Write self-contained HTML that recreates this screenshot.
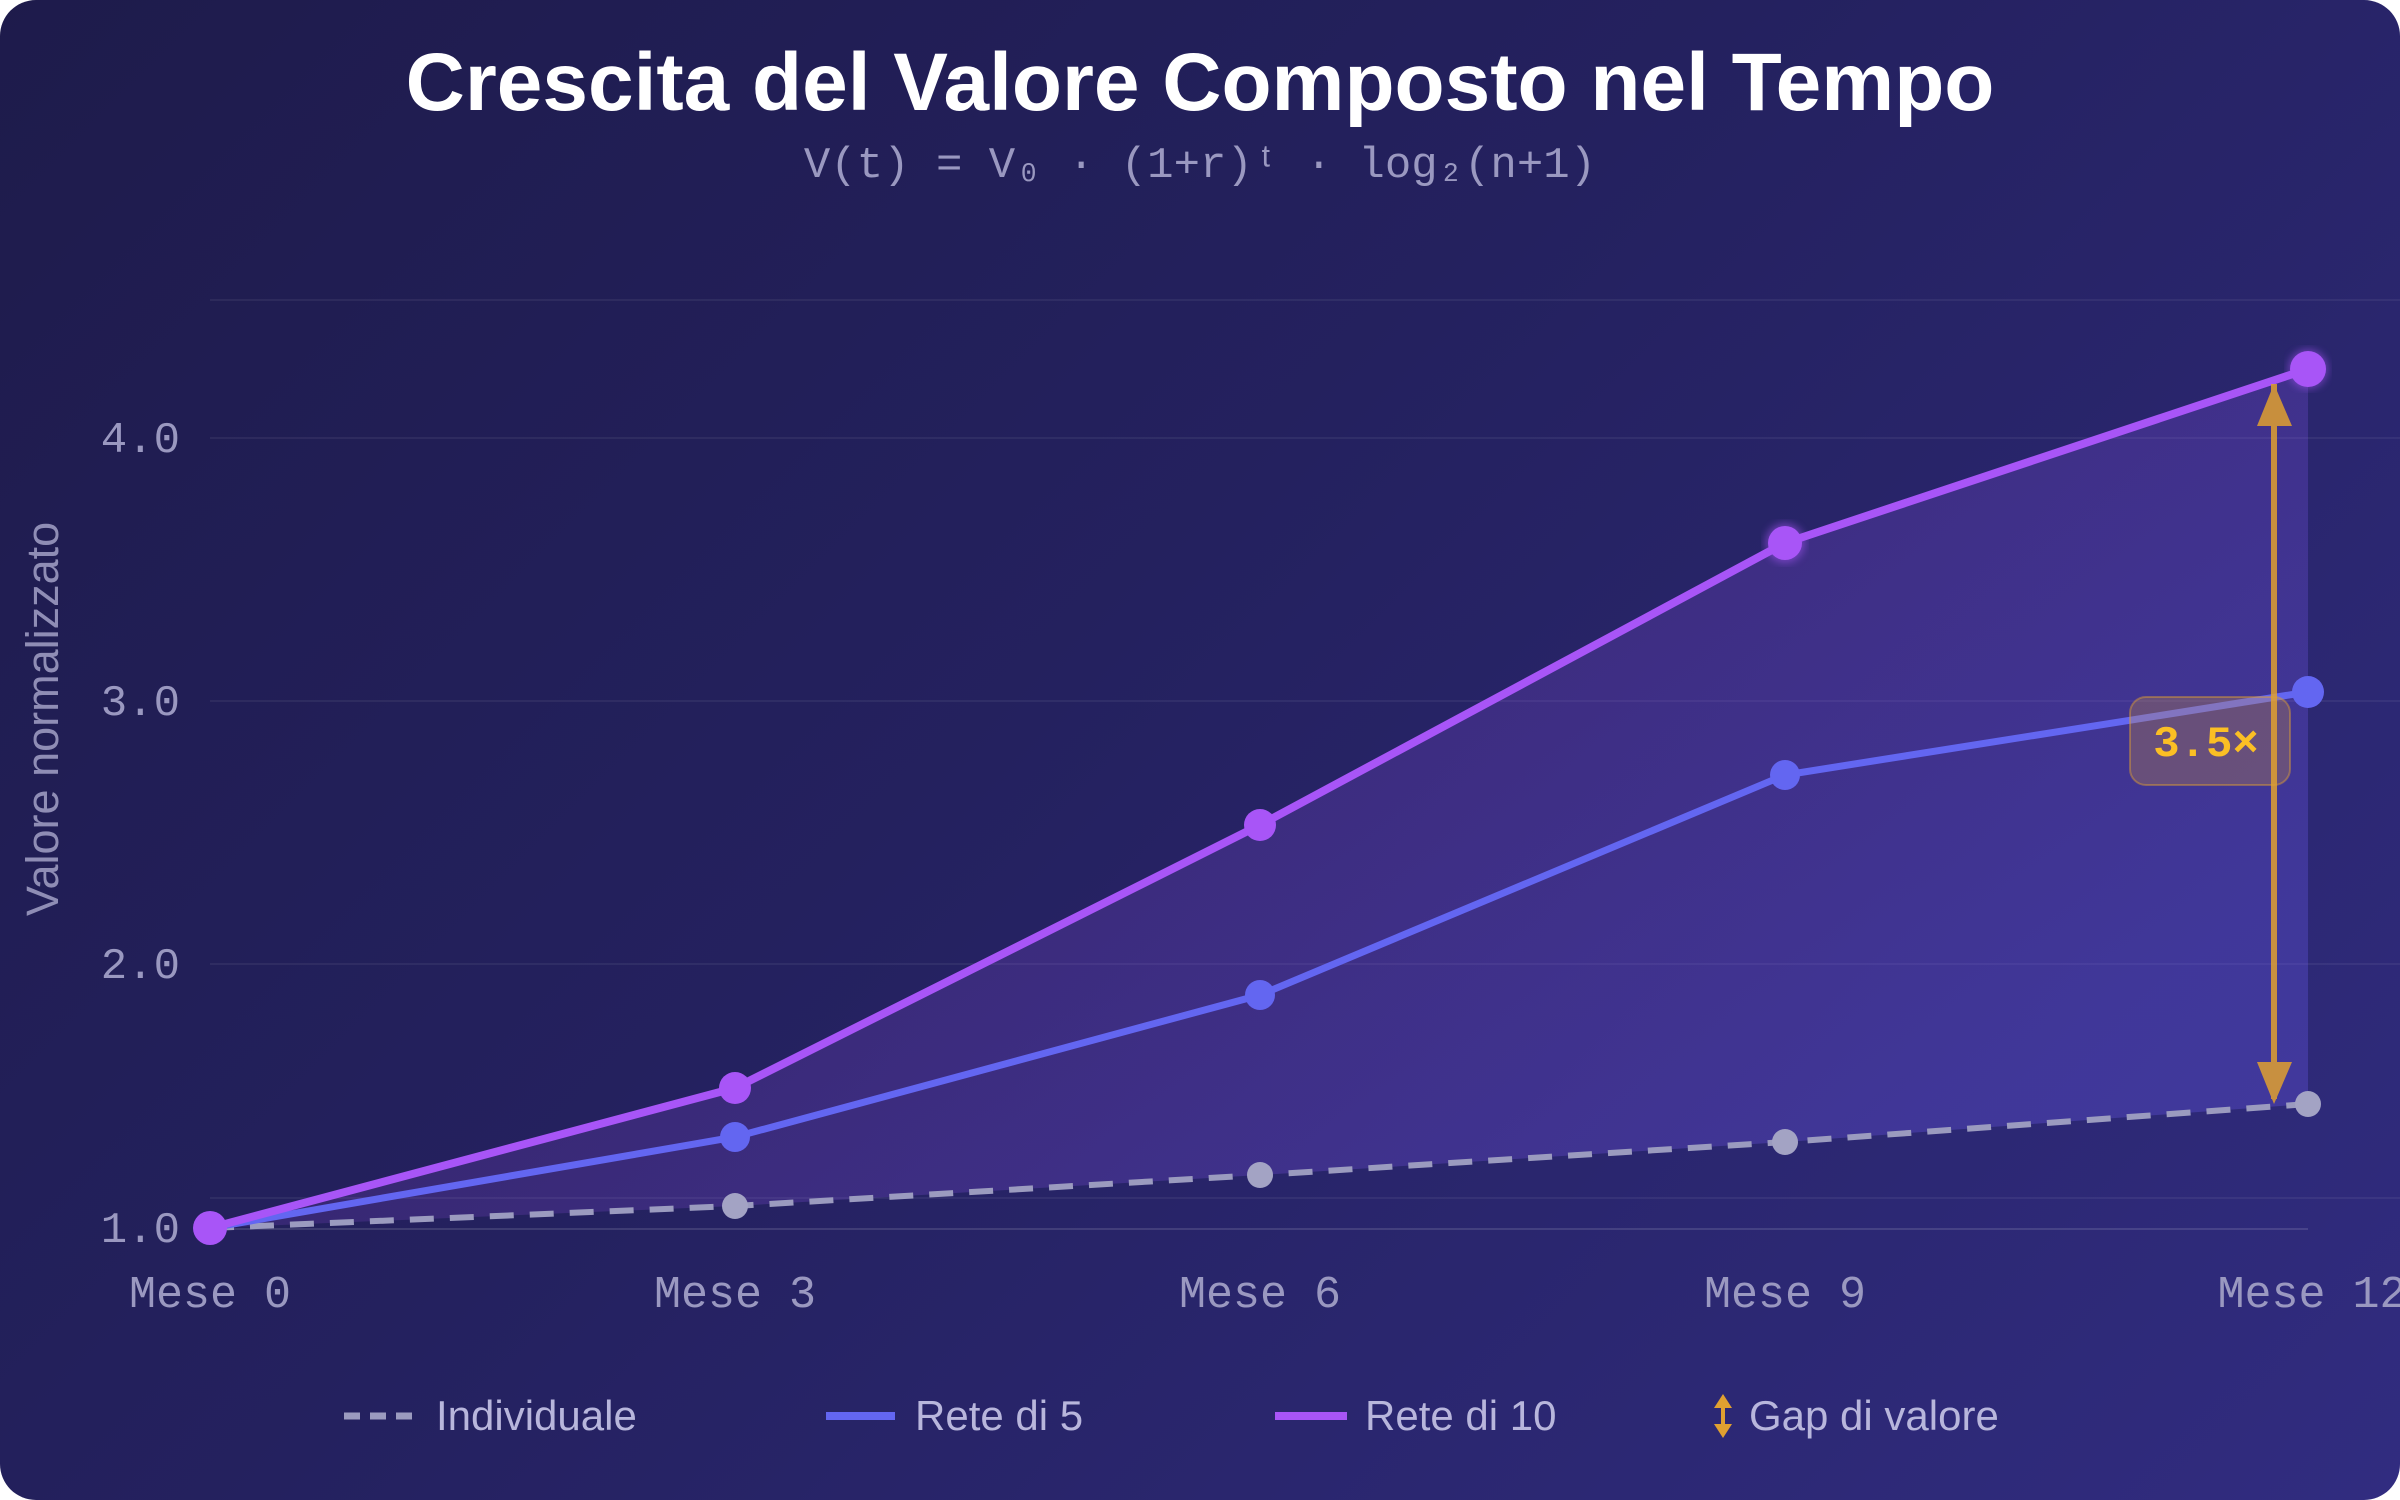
<!DOCTYPE html>
<html><head><meta charset="utf-8"><style>
html,body{margin:0;padding:0;background:#fff;}
body{width:2400px;height:1500px;overflow:hidden;}
.card{position:absolute;left:0;top:0;width:2400px;height:1500px;border-radius:36px;background:linear-gradient(135deg,#1e1b4b 0%,#24215f 45%,#312c80 100%);overflow:hidden;}
svg{position:absolute;left:0;top:0;}
</style></head><body><div class="card">
<svg width="2400" height="1500" viewBox="0 0 2400 1500">
<defs>
<linearGradient id="fill" x1="0" y1="0" x2="1" y2="0.6">
<stop offset="0" stop-color="#a855f7" stop-opacity="0.04"/>
<stop offset="0.5" stop-color="#a855f7" stop-opacity="0.16"/>
<stop offset="1" stop-color="#6d5bf0" stop-opacity="0.3"/>
</linearGradient>
<filter id="glow"><feGaussianBlur stdDeviation="4"/></filter>
</defs>
<text x="1200" y="110" text-anchor="middle" font-family="Liberation Sans, sans-serif" font-weight="bold" font-size="82" fill="#fff">Crescita del Valore Composto nel Tempo</text>
<text x="1200" y="177" text-anchor="middle" font-family="Liberation Mono, monospace" font-size="44" fill="#9a98c0">V(t) = V₀ · (1+r)ᵗ · log₂(n+1)</text>
<g stroke="#ffffff" stroke-opacity="0.06" stroke-width="2">
<line x1="210" y1="300" x2="2400" y2="300"/>
<line x1="210" y1="438" x2="2400" y2="438"/>
<line x1="210" y1="701" x2="2400" y2="701"/>
<line x1="210" y1="964" x2="2400" y2="964"/>
<line x1="210" y1="1198" x2="2400" y2="1198"/>
</g>
<line x1="210" y1="1229" x2="2308" y2="1229" stroke="#ffffff" stroke-opacity="0.12" stroke-width="2"/>
<g font-family="Liberation Mono, monospace" font-size="44" fill="#9a98c0" text-anchor="end">
<text x="180" y="452">4.0</text><text x="180" y="715">3.0</text><text x="180" y="978">2.0</text><text x="180" y="1242">1.0</text>
</g>
<g font-family="Liberation Mono, monospace" font-size="45" fill="#9a98c0" text-anchor="middle">
<text x="210" y="1307">Mese 0</text><text x="735" y="1307">Mese 3</text><text x="1260" y="1307">Mese 6</text><text x="1785" y="1307">Mese 9</text><text x="2312" y="1307">Mese 12</text>
</g>
<text transform="translate(58,719) rotate(-90)" text-anchor="middle" font-family="Liberation Sans, sans-serif" font-size="45" fill="#8f8db5">Valore normalizzato</text>
<polygon points="210,1228 735,1088 1260,825 1785,543 2308,369 2308,1104 1785,1142 1260,1175 735,1206" fill="url(#fill)"/>
<polyline points="210,1228 735,1206 1260,1175 1785,1142 2308,1104" fill="none" stroke="#9b9bbf" stroke-width="6" stroke-dasharray="24,16"/>
<polyline points="210,1228 735,1137 1260,995 1785,775 2308,692" fill="none" stroke="#6366f1" stroke-width="7"/>
<polyline points="210,1228 735,1088 1260,825 1785,543 2308,369" fill="none" stroke="#a855f7" stroke-width="8"/>
<g fill="#a3a3c4"><circle cx="735" cy="1206" r="13"/><circle cx="1260" cy="1175" r="13"/><circle cx="1785" cy="1142" r="13"/><circle cx="2308" cy="1104" r="13"/></g>
<g fill="#6366f1"><circle cx="735" cy="1137" r="15"/><circle cx="1260" cy="995" r="15"/><circle cx="1785" cy="775" r="15"/><circle cx="2308" cy="692" r="16"/></g>
<g fill="#a855f7"><circle cx="1785" cy="543" r="20" opacity="0.5" filter="url(#glow)"/><circle cx="2308" cy="369" r="20" opacity="0.5" filter="url(#glow)"/>
<circle cx="210" cy="1228" r="17"/><circle cx="735" cy="1088" r="16"/><circle cx="1260" cy="825" r="16"/><circle cx="1785" cy="543" r="17"/><circle cx="2308" cy="369" r="18"/></g>
<g fill="#e0a030" opacity="0.85">
<rect x="2271" y="384" width="6" height="715"/>
<polygon points="2274,384 2257,426 2292,426"/>
<polygon points="2274,1104 2257,1062 2292,1062"/>
</g>
<rect x="2130" y="697" width="160" height="88" rx="16" fill="#e0a030" fill-opacity="0.25" stroke="#e0a030" stroke-opacity="0.45" stroke-width="2"/>
<text x="2206" y="756" text-anchor="middle" font-family="Liberation Mono, monospace" font-weight="bold" font-size="44" fill="#fbbf24">3.5×</text>
<g font-family="Liberation Sans, sans-serif" font-size="42" fill="#b8b6dc">
<line x1="344" y1="1416" x2="416" y2="1416" stroke="#9b9bbf" stroke-width="7" stroke-dasharray="16,10"/>
<text x="436" y="1430">Individuale</text>
<line x1="826" y1="1416" x2="895" y2="1416" stroke="#6366f1" stroke-width="8"/>
<text x="915" y="1430">Rete di 5</text>
<line x1="1275" y1="1416" x2="1347" y2="1416" stroke="#a855f7" stroke-width="8"/>
<text x="1365" y="1430">Rete di 10</text>
<g fill="#e0a030"><rect x="1721" y="1400" width="4" height="32"/><polygon points="1723,1394 1714,1408 1732,1408"/><polygon points="1723,1438 1714,1424 1732,1424"/></g>
<text x="1749" y="1430">Gap di valore</text>
</g>
</svg></div></body></html>
